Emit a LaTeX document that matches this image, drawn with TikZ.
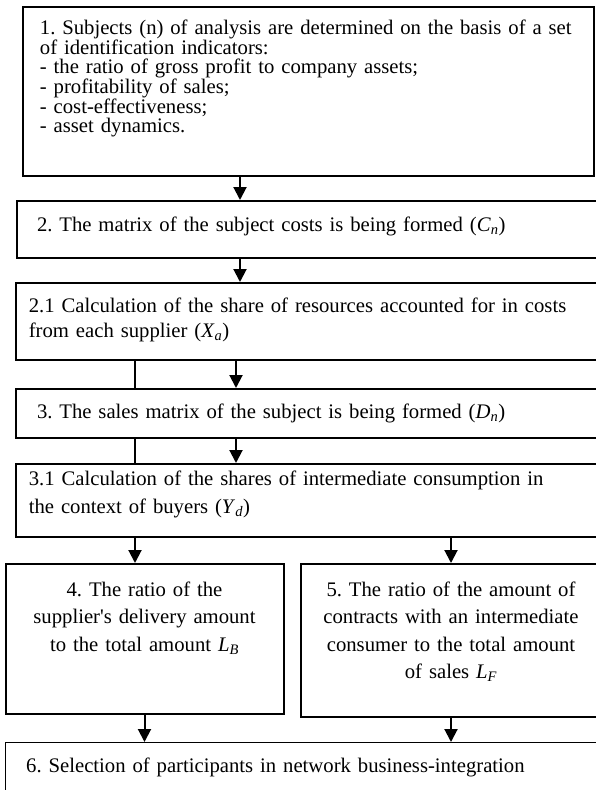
\documentclass[tikz,border=0pt]{standalone}
\usepackage{fontspec}
\setmainfont{Liberation Serif}
\usetikzlibrary{arrows.meta}

\newcommand{\stagefont}{\fontsize{20.7pt}{25pt}\selectfont}
\newcommand{\loosefont}{\fontsize{20.7pt}{27.5pt}\selectfont}
\newcommand{\sym}[2]{\textit{#1}\textsubscript{\textit{#2}}}

\begin{document}
\frenchspacing
\begin{tikzpicture}[x=1pt, y=-1pt, >={Triangle[length=13pt,width=13pt]},
  stage/.style={draw, line width=1.7pt, anchor=north west, align=left,
    font=\stagefont, inner ysep=0pt},
  tight/.style={execute at begin node={\setlength{\baselineskip}{19pt}}},
  flow/.style={line width=2pt, ->},
  link/.style={line width=2pt}]
  \useasboundingbox (0,0) rectangle (596,790);
  \clip (0,0) rectangle (596,790);
  % columns of the connectors
  \coordinate (cL) at (135,0);
  \coordinate (cM) at (240,0);
  \coordinate (cN) at (236,0);
  % the stages
  \node[stage, tight, line width=2.4pt, text width=543pt, inner xsep=14pt,
    text height=27pt, text depth=142pt] (b1) at (21.7,6)
    {\hspace*{3pt}1. Subjects (n) of analysis are determined on the basis of a set\\
     \hspace*{3pt}of identification indicators:\\
     \hspace*{3pt}- the ratio of gross profit to company assets;\\
     \hspace*{3pt}- profitability of sales;\\
     \hspace*{3pt}- cost-effectiveness;\\
     \hspace*{3pt}- asset dynamics.};
  \node[stage, line width=2pt, text width=547pt, inner xsep=20pt,
    text height=30pt, text depth=27pt] (b2) at (16,200)
    {2. The matrix of the subject costs is being formed (\sym{C}{n})};
  \node[stage, text width=569pt, inner xsep=13pt,
    text height=30pt, text depth=47pt] (b21) at (15,282)
    {2.1 Calculation of the share of resources accounted for in costs\\
     from each supplier (\sym{X}{a})};
  \node[stage, line width=2pt, text width=553pt, inner xsep=21pt,
    text height=29pt, text depth=20pt] (b3) at (15,388)
    {3. The sales matrix of the subject is being formed (\sym{D}{n})};
  \node[stage, font=\loosefont, text width=569pt, inner xsep=13pt,
    text height=22pt, text depth=51pt] (b31) at (15,463)
    {3.1 Calculation of the shares of intermediate consumption in\\
     the context of buyers (\sym{Y}{d})};
  \node[stage, line width=2pt, font=\loosefont, align=center, text width=262pt,
    inner xsep=8pt, text height=32pt, text depth=118pt] (b4) at (4.5,563)
    {4. The ratio of the\\
     supplier\textquotesingle s delivery amount\\
     to the total amount \sym{L}{B}};
  \node[stage, line width=2pt, font=\loosefont, align=center, text width=284pt,
    inner xsep=8pt, text height=32pt, text depth=121pt] (b5) at (300,563)
    {5. The ratio of the amount of\\
     contracts with an intermediate\\
     consumer to the total amount\\
     of sales \sym{L}{F}};
  \node[stage, line width=1.4pt, text width=585pt, inner xsep=21pt,
    text height=30pt, text depth=28pt] (b6) at (4.5,742)
    {6. Selection of participants in network business-integration};
  % connectors
  \draw[flow] (b1.south -| cM) -- (b2.north -| cM);
  \draw[flow] (b2.south -| cM) -- (b21.north -| cM);
  \draw[link] (b21.south -| cL) -- (b3.north -| cL);
  \draw[flow] (b21.south -| cN) -- (b3.north -| cN);
  \draw[link] (b3.south -| cL) -- (b31.north -| cL);
  \draw[flow] (b3.south -| cN) -- (b31.north -| cN);
  \draw[flow] (b31.south -| cL) -- (b4.north -| cL);
  \draw[flow] (b31.south -| b5) -- (b5.north);
  \draw[flow] (b4.south) -- (b6.north -| b4.south);
  \draw[flow] (b5.south) -- (b6.north -| b5.south);
\end{tikzpicture}
\end{document}
